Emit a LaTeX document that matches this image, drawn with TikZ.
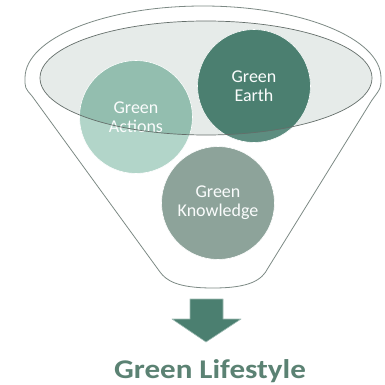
\documentclass[tikz,border=0pt]{standalone}
\usepackage{fontspec}
\setmainfont{Carlito}
\definecolor{rimgray}{HTML}{7D8A85}
\definecolor{mouthfill}{HTML}{E6EBE9}
\definecolor{actgreen}{HTML}{B2D5C9}
\definecolor{actdeep}{HTML}{93BEAF}
\definecolor{earthgreen}{HTML}{5D8D80}
\definecolor{earthdeep}{HTML}{4B7F70}
\definecolor{knowgreen}{HTML}{8DA39A}
\definecolor{lifegreen}{HTML}{5B8273}
\begin{document}
\begin{tikzpicture}[x=1pt,y=-1pt, line join=round, line cap=round,
  blob/.style={circle, minimum size=113pt, inner sep=0pt, draw=white, line width=.6pt,
    align=center, text=white!94!actgreen, font=\fontsize{18}{19}\selectfont},
  inmouth/.style={path picture={\fill[#1] (mouth) ellipse[x radius=166, y radius=57];}}]
\useasboundingbox (0,0) rectangle (385,385);
\def \cx{206} \def \cy{78}
\coordinate (mouth) at (\cx,\cy);
% funnel body
\draw[rimgray, line width=.8pt, fill=white] (25,\cy) arc[start angle=180, end angle=360, x radius=178, y radius=72]
  .. controls (381,88) .. (372,100) -- (268,268) .. controls (262,280) and (250,288) .. (213,288)
  .. controls (176,288) and (166,280) .. (160,272) -- (32,96) .. controls (25,88) .. (25,\cy);
% mouth
\fill[mouthfill] (mouth) ellipse[x radius=166, y radius=57];
\node[blob, fill=actgreen, inmouth=actdeep] (act) at (136,117) {Green\\Actions};
\node[blob, fill=earthgreen, inmouth=earthdeep] (earth) at (254,86) {Green\\Earth};
\node[blob, fill=knowgreen] (know) at (218,203) {Green\\Knowledge};
\draw[rimgray!80!black, line width=.7pt] (mouth) ellipse[x radius=166, y radius=57];
% arrow
\draw[earthgreen!60!white, line width=.6pt, fill=earthdeep] (190,299) -- (223,299) -- (223,319) -- (241,319)
  -- (206,342) -- (172,319) -- (190,319) -- cycle;
\node[anchor=base, text=lifegreen, font=\bfseries\fontsize{27}{30}\selectfont] (life) at (210,378) {\scalebox{1.15}[1]{Green Lifestyle}};
\end{tikzpicture}
\end{document}
